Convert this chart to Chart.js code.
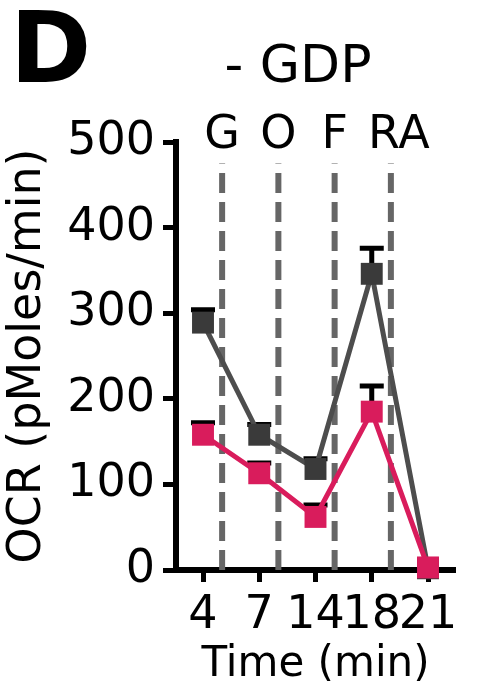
<!DOCTYPE html>
<html>
<head>
<meta charset="utf-8">
<script src="https://cdn.jsdelivr.net/npm/chart.js@4.4.1/dist/chart.umd.min.js"></script>
<style>
	html, body { margin: 0; padding: 0; background: #fff; }
	#wrap { position: relative; width: 480px; height: 695px; }
</style>
</head>
<body>
<div id="wrap"><canvas id="ocrChart"></canvas></div>
<script>
const timeLabels = ['4', '7', '14', '18', '21'];
const timeIndex = [0, 1, 2, 3, 4];
const greyOcr = [289, 158, 118, 346, 2];
const greyErr = [15, 12, 12, 30, 0];
const pinkOcr = [158, 113, 62, 185, 3];
const pinkErr = [14, 12, 14, 30, 0];
const injectionNames = ['G', 'O', 'F', 'RA'];
const injectionAt = [0.34, 1.34, 2.34, 3.34];
const injectionTop = 475;
const yTicks = [0, 100, 200, 300, 400, 500];

const FONT = 'DejaVu Sans';
const GREY = '#3a3a3a';
const PINK = '#d91c5c';

const toPoints = (values) => values.map((y, i) => ({ x: timeIndex[i], y }));

const injectionSets = injectionAt.map((x) => ({
	data: [{ x, y: 0 }, { x, y: injectionTop }],
	borderColor: '#666',
	borderWidth: 6,
	borderDash: [20, 9],
	pointRadius: 0,
	order: 3,
	clip: false,
}));

const seriesSet = (values, errors, color, lineColor, order) => ({
	data: toPoints(values),
	errors,
	borderColor: lineColor,
	backgroundColor: color,
	borderWidth: 5,
	pointStyle: 'rect',
	pointRadius: 15.5,
	pointBorderWidth: 0,
	pointBackgroundColor: color,
	tension: 0,
	order,
	clip: false,
});

const errorBars = {
	id: 'errorBars',
	beforeDatasetDraw(chart, args) {
		const ds = chart.data.datasets[args.index];
		if (!ds.errors) return;
		const { ctx } = chart;
		const x = chart.scales.x;
		const y = chart.scales.y;
		ctx.save();
		ctx.strokeStyle = '#000';
		ctx.lineWidth = 5;
		ds.data.forEach((pt, i) => {
			const err = ds.errors[i];
			if (!err) return;
			const px = x.getPixelForValue(pt.x);
			const py = y.getPixelForValue(pt.y);
			const top = y.getPixelForValue(pt.y + err);
			ctx.beginPath();
			ctx.moveTo(px, py);
			ctx.lineTo(px, top);
			ctx.moveTo(px - 12, top);
			ctx.lineTo(px + 12, top);
			ctx.stroke();
		});
		ctx.restore();
	},
};

const panelText = {
	id: 'panelText',
	afterDraw(chart) {
		const { ctx } = chart;
		const x = chart.scales.x;
		ctx.save();
		ctx.fillStyle = '#000';
		ctx.textBaseline = 'alphabetic';
		ctx.textAlign = 'left';
		ctx.font = `bold 98px "${FONT}"`;
		ctx.fillText('D', 10, 82);
		ctx.textAlign = 'center';
		ctx.font = `52px "${FONT}"`;
		ctx.fillText('- GDP', 298, 82);
		ctx.font = `46px "${FONT}"`;
		injectionNames.forEach((name, i) => {
			const shift = name.length > 1 ? 8 : 0;
			ctx.fillText(name, x.getPixelForValue(injectionAt[i]) + shift, 148);
		});
		ctx.restore();
	},
};

new Chart(document.getElementById('ocrChart'), {
	type: 'line',
	data: {
		datasets: [
			...injectionSets,
			seriesSet(greyOcr, greyErr, GREY, '#4d4d4d', 2),
			seriesSet(pinkOcr, pinkErr, PINK, PINK, 1),
		],
	},
	options: {
		responsive: true,
		maintainAspectRatio: false,
		animation: false,
		layout: {
			padding: { left: 0, right: 25, top: 142, bottom: 5 },
		},
		plugins: {
			legend: { display: false },
			tooltip: { enabled: false },
		},
		scales: {
			x: {
				type: 'linear',
				min: -0.48,
				max: 4.48,
				afterBuildTicks: (scale) => {
					scale.ticks = timeIndex.map((value) => ({ value }));
				},
				afterFit: (scale) => {
					scale.height = 120;
				},
				ticks: {
					autoSkip: false,
					maxRotation: 0,
					padding: 6,
					color: '#000',
					font: { family: FONT, size: 46 },
					callback: (value) => timeLabels[value],
				},
				grid: {
					drawOnChartArea: false,
					tickLength: 12,
					tickWidth: 5,
					tickColor: '#000',
				},
				border: { width: 6, color: '#000' },
				title: {
					display: true,
					text: 'Time (min)',
					color: '#000',
					padding: 0,
					font: { family: FONT, size: 42 },
				},
			},
			y: {
				min: 0,
				max: 500,
				afterBuildTicks: (scale) => {
					scale.ticks = yTicks.map((value) => ({ value }));
				},
				afterFit: (scale) => {
					scale.width = 176;
				},
				ticks: {
					padding: 8,
					color: '#000',
					font: { family: FONT, size: 46 },
				},
				grid: {
					drawOnChartArea: false,
					tickLength: 13,
					tickWidth: 5,
					tickColor: '#000',
				},
				border: { width: 6, color: '#000' },
				title: {
					display: true,
					text: 'OCR (pMoles/min)',
					color: '#000',
					padding: 0,
					font: { family: FONT, size: 46 },
				},
			},
		},
	},
	plugins: [errorBars, panelText],
});
</script>
</body>
</html>
